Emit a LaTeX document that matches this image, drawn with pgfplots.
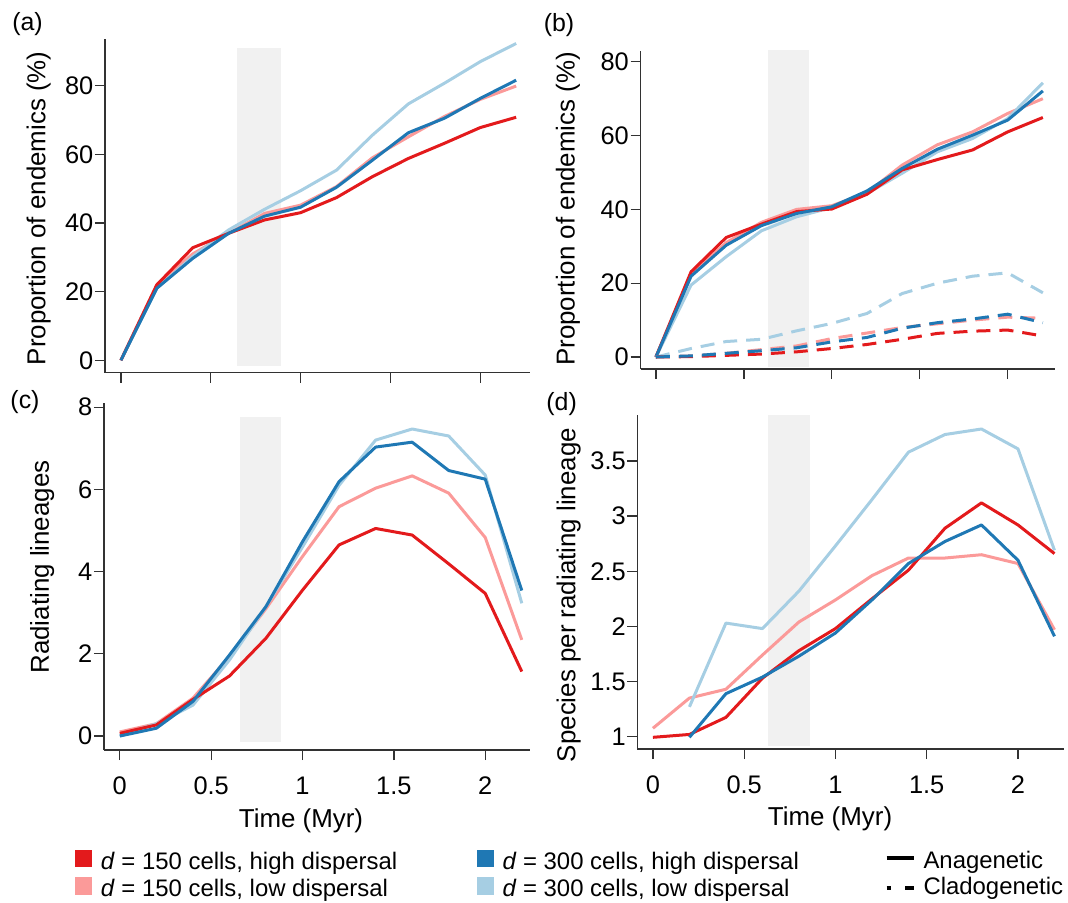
\documentclass[border=0pt]{standalone}
\usepackage{pgfplots}
\pgfplotsset{compat=1.18}
\usepackage{pgfplotstable}
\usepackage{fontspec}
\setmainfont{Liberation Sans}
\definecolor{cR}{RGB}{227,26,28}
\definecolor{cLR}{RGB}{251,154,153}
\definecolor{cB}{RGB}{31,120,180}
\definecolor{cLB}{RGB}{166,206,227}
\definecolor{band}{RGB}{241,241,241}
\definecolor{axc}{RGB}{50,50,50}

\pgfplotstableread{
t r lr b lb
0.0 0 0 0 0
0.2 22 22 21 21
0.4 32.8 31 29.7 30.2
0.6 37 37 37 38
0.8 40.9 42.8 42 44
1.0 43 45.2 44.6 49.4
1.2 47.4 50.6 50.4 55.4
1.4 53.5 59 58.3 65.6
1.6 58.8 65.1 66.3 74.7
1.8 63.2 71 70.5 80.7
2.0 67.8 76 76.3 87
2.2 70.8 79.9 81.6 92.3
}\dataA

\pgfplotstableread{
t r lr b lb rc lrc bc lbc
0.0 0 0 0 0 0 0 0 0
0.2 23.1 22.5 21.9 19.5 0.1 0.3 0.3 2.3
0.4 32.4 31 30.3 27.2 0.45 1 1 4.2
0.6 36 36.5 35.6 34.2 0.8 2 1.7 4.8
0.8 39.4 40 38.9 38 1.4 3 2.5 7.1
1.0 40.1 41 40.7 40.5 2.3 5 4.1 9.1
1.2 44.1 44.5 45 44.3 3.4 6.5 5.3 11.8
1.4 50.7 52 51.1 49.8 4.8 8 7.8 17.2
1.6 53.5 57.5 56.3 55.6 6.4 9 9.3 20
1.8 56.1 61 60.1 59.2 7 10 10.3 21.9
2.0 61 66 64.2 64.6 7.3 10.8 11.6 22.8
2.2 64.9 70 72.1 74.3 5.7 10.5 9.3 17.4
}\dataB

\pgfplotstableread{
t r lr b lb
0.0 0.065 0.1 0 0.02
0.2 0.27 0.3 0.19 0.3
0.4 0.89 0.92 0.84 0.75
0.6 1.46 1.93 1.97 1.85
0.8 2.38 3.1 3.15 3.15
1.0 3.55 4.37 4.73 4.6
1.2 4.65 5.58 6.19 6.1
1.4 5.05 6.03 7.03 7.2
1.6 4.89 6.33 7.15 7.47
1.8 4.19 5.91 6.46 7.3
2.0 3.47 4.83 6.25 6.35
2.2 1.57 2.34 3.54 3.23
}\dataC

\pgfplotstableread{
t r lr b lb
0.0 0.994 1.076 nan nan
0.2 1.02 1.35 0.994 1.27
0.4 1.175 1.43 1.39 2.03
0.6 1.53 1.74 1.54 1.98
0.8 1.78 2.04 1.73 2.32
1.0 1.98 2.24 1.94 2.73
1.2 2.25 2.46 2.24 3.15
1.4 2.51 2.62 2.57 3.58
1.6 2.89 2.62 2.77 3.74
1.8 3.12 2.65 2.92 3.79
2.0 2.92 2.57 2.6 3.61
2.2 2.66 1.97 1.91 2.69
}\dataD

\pgfplotsset{
  panel/.style={
    scale only axis,
    anchor=south west,
    axis lines=left,
    axis line style={-, line width=1.3bp, draw=axc},
    every tick/.style={line width=1.3bp, draw=axc},
    major tick length=10bp,
    tick align=outside,
    xtick={0,0.5,1,1.5,2},
    /pgf/number format/assume math mode=true,
    ticklabel style={font=\fontsize{25.5}{30}\selectfont},
    yticklabel style={inner xsep=1.5bp},
    xticklabel style={yshift=-13bp},
    label style={font=\fontsize{26}{31}\selectfont},
    ylabel style={anchor=center},
    xlabel style={anchor=center},
  },
  ser/.style={line width=3bp, line join=round, no marks},
}

\begin{document}
\begin{tikzpicture}
\path[use as bounding box] (0,0) rectangle (1068bp,-903bp);

% (a)
\begin{axis}[panel, at={(105bp,-372.7bp)}, width=425bp, height=333.7bp,
  xmin=-0.0885, xmax=2.277, ymin=-3.61, ymax=93.6,
  ytick={0,20,40,60,80}, xticklabels={},
  ylabel={Proportion of endemics (\%)},
  ylabel style={at={(axis description cs:-0.156,0.4927)}}]
\addplot[fill=band, draw=none, forget plot] coordinates {(0.645,-1.57) (0.889,-1.57) (0.889,90.9) (0.645,90.9)} -- cycle;
\addplot[ser, cLR] table[x=t, y=lr] {\dataA};
\addplot[ser, cLB] table[x=t, y=lb] {\dataA};
\addplot[ser, cR] table[x=t, y=r] {\dataA};
\addplot[ser, cB] table[x=t, y=b] {\dataA};
\end{axis}

% (b)
\begin{axis}[panel, at={(640.5bp,-369bp)}, width=414.5bp, height=318.3bp,
  xmin=-0.0876, xmax=2.269, ymin=-3.25, ymax=83.0,
  ytick={0,20,40,60,80}, xticklabels={},
  ylabel={Proportion of endemics (\%)},
  ylabel style={at={(axis description cs:-0.175,0.503)}}]
\addplot[fill=band, draw=none, forget plot] coordinates {(0.638,-2.6) (0.869,-2.6) (0.869,83.8) (0.638,83.8)} -- cycle;
\addplot[ser, cLR] table[x=t, y=lr] {\dataB};
\addplot[ser, cLB] table[x=t, y=lb] {\dataB};
\addplot[ser, cR] table[x=t, y=r] {\dataB};
\addplot[ser, cB] table[x=t, y=b] {\dataB};
\addplot[ser, cLB, dash pattern=on 14bp off 9bp] table[x=t, y=lbc] {\dataB};
\addplot[ser, cLR, dash pattern=on 14bp off 9bp] table[x=t, y=lrc] {\dataB};
\addplot[ser, cR, dash pattern=on 14bp off 9bp] table[x=t, y=rc] {\dataB};
\addplot[ser, cB, dash pattern=on 14bp off 9bp] table[x=t, y=bc] {\dataB};
\end{axis}

% (c)
\begin{axis}[panel, at={(104bp,-750bp)}, width=426bp, height=347.3bp,
  xmin=-0.0865, xmax=2.245, ymin=-0.34, ymax=8.11,
  ytick={0,2,4,6,8},
  xlabel={Time (Myr)}, ylabel={Radiating lineages},
  xlabel style={at={(axis description cs:0.4624,-0.204)}},
  ylabel style={at={(axis description cs:-0.145,0.527)}}]
\addplot[fill=band, draw=none, forget plot] coordinates {(0.658,-0.138) (0.88,-0.138) (0.88,7.76) (0.658,7.76)} -- cycle;
\addplot[ser, cLR] table[x=t, y=lr] {\dataC};
\addplot[ser, cLB] table[x=t, y=lb] {\dataC};
\addplot[ser, cR] table[x=t, y=r] {\dataC};
\addplot[ser, cB] table[x=t, y=b] {\dataC};
\end{axis}

% (d)
\begin{axis}[panel, at={(637.4bp,-749bp)}, width=426.2bp, height=334bp,
  xmin=-0.085, xmax=2.25, ymin=0.888, ymax=3.917,
  ytick={1,1.5,2,2.5,3,3.5},
  xlabel={Time (Myr)}, ylabel={Species per radiating lineage},
  xlabel style={at={(axis description cs:0.452,-0.2096)}},
  ylabel style={at={(axis description cs:-0.161,0.461)}}]
\addplot[fill=band, draw=none, forget plot] coordinates {(0.632,0.916) (0.859,0.916) (0.859,3.926) (0.632,3.926)} -- cycle;
\addplot[ser, cLR] table[x=t, y=lr] {\dataD};
\addplot[ser, cLB] table[x=t, y=lb] {\dataD};
\addplot[ser, cR] table[x=t, y=r] {\dataD};
\addplot[ser, cB] table[x=t, y=b] {\dataD};
\end{axis}

% panel letters
\begin{scope}[every node/.style={font=\fontsize{25}{30}\selectfont, inner sep=0pt, anchor=center}]
\node at (27.5bp,-24bp) {(a)};
\node at (559bp,-25bp) {(b)};
\node at (25bp,-402bp) {(c)};
\node at (561.6bp,-404bp) {(d)};
\end{scope}

% legend
\begin{scope}[every node/.style={font=\fontsize{24}{29}\selectfont, inner sep=0pt, anchor=base west}]
\fill[cR] (75bp,-849.7bp) rectangle (91.7bp,-867.3bp);
\fill[cLR] (75bp,-877.3bp) rectangle (91.7bp,-894.7bp);
\fill[cB] (476.7bp,-849.7bp) rectangle (494bp,-867.3bp);
\fill[cLB] (476.7bp,-877.3bp) rectangle (494bp,-894.7bp);
\node at (100.7bp,-869.7bp) {\textit{d} = 150 cells, high dispersal};
\node at (100.7bp,-896.3bp) {\textit{d} = 150 cells, low dispersal};
\node at (502.3bp,-869.7bp) {\textit{d} = 300 cells, high dispersal};
\node at (502.3bp,-896.3bp) {\textit{d} = 300 cells, low dispersal};
\draw[line width=3.3bp] (886.7bp,-858bp) -- (914.3bp,-858bp);
\draw[line width=3.3bp] (886.7bp,-888bp) -- (891bp,-888bp);
\draw[line width=3.3bp] (905bp,-888bp) -- (914.3bp,-888bp);
\node at (923.3bp,-868bp) {Anagenetic};
\node at (923.3bp,-894bp) {Cladogenetic};
\end{scope}
\end{tikzpicture}
\end{document}
